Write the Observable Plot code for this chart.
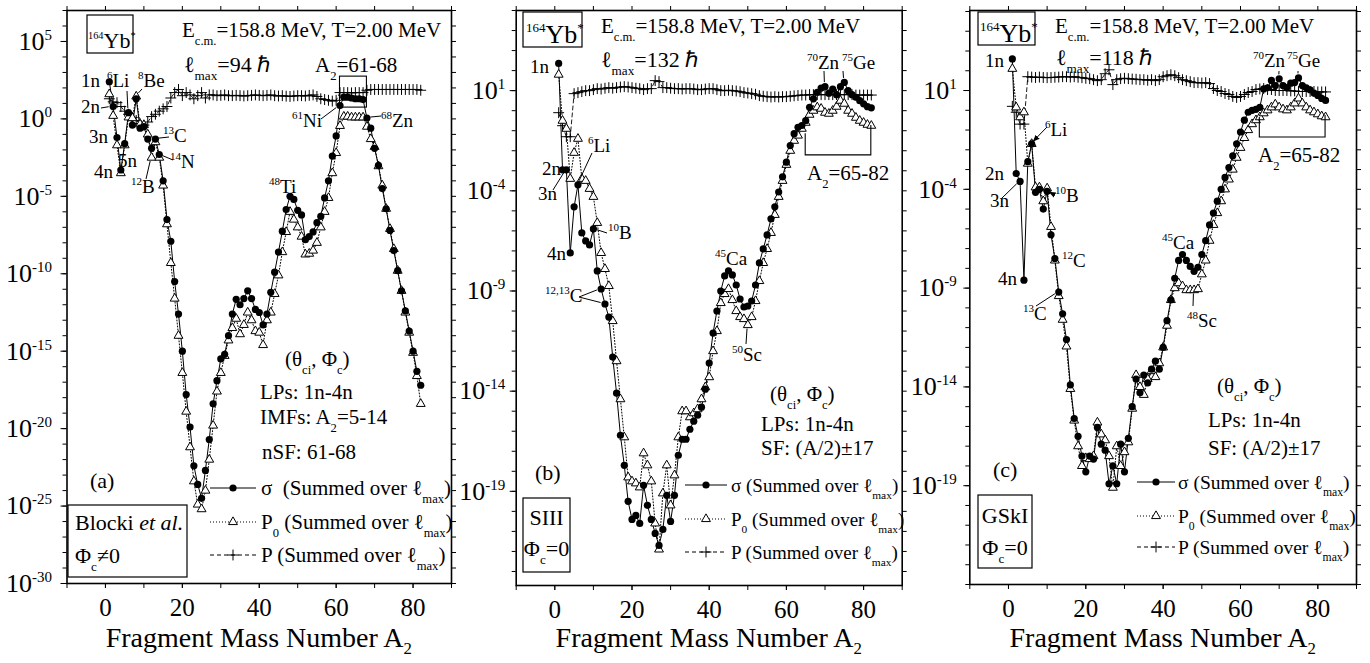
<!DOCTYPE html>
<html>
<head>
<meta charset="utf-8">
<script src="https://cdn.jsdelivr.net/npm/d3@7"></script>
<script src="https://cdn.jsdelivr.net/npm/@observablehq/plot@0.6"></script>
<style>
  html, body { margin: 0; padding: 0; background: #fff; }
  #wrap { position: relative; width: 1370px; height: 663px; overflow: hidden; background: #fff; }
  #wrap > svg { position: absolute; top: 0; }
  text { font-family: "Liberation Serif", "Times New Roman", serif; }
</style>
</head>
<body>
<div id="wrap"></div>
<script>
// ---------- data ----------
const massNumbers = [1,2,3,4,5,6,7,8,9,10,11,12,13,14,15,16,17,18,19,20,21,22,23,24,25,26,27,28,29,30,31,32,33,34,35,36,37,38,39,40,41,42,43,44,45,46,47,48,49,50,51,52,53,54,55,56,57,58,59,60,61,62,63,64,65,66,67,68,69,70,71,72,73,74,75,76,77,78,79,80,81,82];

// log10 of the plotted quantities, panel (a) Blocki et al.
const logSigmaA = [2.4,0.8,-1.2,-3.3,-1.6,0.4,-0.4,1.3,-0.6,-0.5,
 -1.3,-1.9,-1.3,-2.3,-4.0,-6.5,-7.9,-10.5,-12.6,-15.0,
 -17.8,-19.9,-22.4,-23.6,-24.5,-22.7,-20.7,-18.4,-16.9,-15.5,
 -15.2,-14.0,-12.6,-11.65,-12.0,-11.6,-11.1,-11.6,-12.3,-12.5,
 -13.3,-12.6,-11.2,-9.9,-8.6,-7.25,-5.85,-5.0,-5.2,-5.9,
 -6.2,-7.8,-7.6,-7.3,-6.7,-6.3,-5.1,-4.0,-2.4,-1.1,
 0.86,1.4,1.4,1.35,1.3,1.3,1.25,0.06,-0.6,-1.9,
 -3.0,-4.5,-5.8,-7.2,-8.5,-9.8,-11.1,-12.4,-13.7,-15.0,
 -16.3,-17.2];
const logP0A = [1.6,0.2,-1.7,-3.5,-1.7,0.1,0.05,1.45,-0.35,-0.4,
 -1.0,-2.5,-1.5,-2.5,-4.3,-6.8,-9.3,-11.6,-14.0,-16.4,
 -18.9,-21.2,-23.4,-24.9,-25.2,-24.0,-22.0,-19.8,-17.6,-16.4,
 -15.3,-14.3,-13.5,-12.9,-13.9,-13.3,-12.5,-13.0,-13.7,-13.8,
 -14.6,-13.0,-12.5,-11.3,-10.1,-8.6,-7.3,-6.0,-6.5,-7.0,
 -7.6,-8.75,-8.7,-8.5,-8.0,-7.0,-6.0,-5.1,-3.5,-2.2,
 -0.45,0.15,0.15,0.1,0.1,0.1,0.1,-0.5,-1.3,-1.8,
 -3.05,-4.3,-5.8,-7.1,-8.4,-9.8,-11.1,-12.5,-13.8,-15.1,
 -16.6,-18.4];
const logPA = [1.3,1.1,1.05,0.8,0.5,0.3,0.1,-0.1,-0.3,-0.4,
 -0.2,0.15,0.3,0.5,0.65,0.8,1.35,1.7,1.9,1.5,
 1.7,1.55,1.3,1.5,1.7,1.35,1.55,1.55,1.5,1.52,
 1.55,1.5,1.5,1.52,1.5,1.48,1.5,1.52,1.55,1.52,
 1.5,1.52,1.55,1.5,1.48,1.5,1.47,1.45,1.48,1.5,
 1.5,1.48,1.52,1.55,1.45,1.3,1.25,1.2,1.15,1.2,
 1.7,1.7,1.7,1.68,1.7,1.7,1.7,1.85,1.9,1.9,
 1.9,1.9,1.9,1.9,1.9,1.9,1.9,1.9,1.9,1.9,
 1.9,1.85];

// panel (b) SIII
const logSigmaB = [2.36,-2.95,-2.95,-7.1,-4.8,-3.7,-6.1,-6.5,-6.7,-5.9,
 -8.0,-8.9,-9.65,-10.3,-12.3,-14.1,-16.2,-17.7,-19.5,-20.4,
 -20.2,-20.6,-18.7,-19.7,-20.4,-21.1,-21.7,-20.9,-19.2,-20.5,
 -19.2,-17.2,-16.4,-16.4,-15.9,-15.5,-15.2,-14.8,-13.9,-12.6,
 -11.1,-10.0,-9.0,-8.25,-8.0,-8.2,-8.7,-9.4,-9.8,-9.75,
 -9.5,-8.7,-7.6,-6.9,-6.2,-5.4,-4.8,-4.06,-3.3,-2.57,
 -1.74,-1.15,-0.83,-0.74,-0.5,0.17,0.59,0.92,1.13,1.2,
 0.87,1.08,0.8,1.2,1.41,1.0,0.8,0.67,0.5,0.34,
 0.2,0.14];
const logP0B = [1.8,-0.5,-0.9,-3.4,-2.1,-1.4,-3.4,-3.5,-3.9,-4.3,
 -5.6,-7.1,-7.9,-8.75,-10.5,-12.5,-14.4,-16.3,-18.3,-18.5,
 -18.6,-18.8,-17.1,-17.7,-18.5,-20.6,-21.9,-19.1,-17.7,-19.7,
 -18.2,-16.3,-15.0,-15.0,-15.3,-15.1,-14.9,-14.4,-13.8,-13.3,
 -12.0,-11.0,-9.6,-9.15,-8.9,-9.45,-10.0,-10.3,-10.4,-10.7,
 -10.3,-9.5,-8.5,-7.6,-6.9,-6.1,-5.2,-4.3,-3.5,-2.7,
 -2.0,-1.5,-1.24,-0.9,-0.6,-0.2,0.0,0.17,0.1,-0.1,
 -0.15,0.0,0.2,0.5,0.35,0.0,-0.15,-0.35,-0.5,-0.6,
 -0.7,-0.75];
const logPB = [-0.1,-0.75,-1.3,-1.3,0.85,0.9,0.95,1.0,1.0,1.05,
 1.1,1.08,1.12,1.15,1.12,1.15,1.18,1.2,1.18,1.15,
 1.12,1.1,1.05,1.1,1.1,1.5,1.45,1.15,1.15,1.12,
 1.1,1.1,1.08,1.1,1.1,1.08,1.05,1.05,1.08,1.1,
 1.1,1.05,1.0,1.0,1.02,1.0,0.98,0.95,0.9,0.88,
 0.85,0.82,0.75,0.72,0.7,0.68,0.7,0.68,0.7,0.7,
 0.72,0.74,0.76,0.78,0.78,0.8,0.8,0.8,0.8,0.8,
 0.8,0.8,0.8,0.8,0.8,0.8,0.8,0.78,0.78,0.78,
 0.78,0.78];

// panel (c) GSkI
const logSigmaC = [2.6,-3.2,-3.6,-8.6,-2.6,-1.7,-4.15,-4.0,-5.0,-4.1,
 -6.3,-7.5,-9.2,-10.3,-11.6,-13.9,-15.6,-16.5,-17.5,-18.3,
 -17.5,-17.65,-16.05,-16.9,-17.2,-18.9,-18.0,-18.9,-16.9,-18.3,
 -16.6,-15.0,-13.6,-14.3,-13.4,-13.8,-13.1,-12.7,-13.1,-12.0,
 -10.65,-9.6,-8.5,-7.6,-7.3,-7.6,-7.9,-8.15,-7.95,-7.3,
 -6.6,-5.8,-5.2,-4.6,-4.0,-3.4,-2.9,-2.3,-1.7,-1.1,
 -0.5,-0.1,0.0,0.05,0.15,1.08,1.14,1.51,1.25,1.59,
 1.25,1.15,1.37,1.4,1.64,1.25,1.14,1.04,0.87,0.75,
 0.6,0.5];
const logP0C = [2.1,0.15,-0.35,-0.1,-2.7,-1.7,-3.9,-3.9,-4.6,-3.95,
 -5.9,-7.6,-9.4,-10.6,-11.95,-14.1,-15.7,-17.0,-18.0,-17.6,
 -17.65,-17.5,-15.8,-16.4,-16.7,-17.5,-19.1,-17.0,-18.0,-17.3,
 -16.8,-15.1,-13.4,-14.0,-14.4,-13.6,-13.2,-13.5,-12.8,-12.0,
 -10.9,-9.6,-9.0,-8.75,-8.9,-9.1,-9.1,-9.1,-9.05,-8.3,
 -7.6,-6.6,-5.8,-5.2,-4.6,-4.0,-3.5,-3.0,-2.4,-1.9,
 -1.4,-1.0,-0.7,-0.5,-0.35,-0.15,0.0,0.15,0.3,0.15,
 0.05,0.0,0.15,0.35,0.6,0.35,0.15,0.0,-0.1,-0.2,
 -0.3,-0.35];
const logPC = [0.2,-0.1,-0.7,-0.7,1.7,1.68,1.66,1.68,1.66,1.65,
 1.66,1.67,1.68,1.7,1.7,1.68,1.7,1.67,1.65,1.62,
 1.6,1.55,1.5,1.55,1.85,2.05,1.3,1.55,1.6,1.62,
 1.6,1.58,1.57,1.55,1.55,1.52,1.55,1.5,1.55,1.7,
 1.75,1.8,1.75,1.65,1.55,1.5,1.45,1.4,1.4,1.38,
 1.4,1.35,1.1,1.0,0.95,0.85,0.8,0.7,0.65,0.7,
 0.8,0.9,0.95,1.05,1.08,1.1,1.05,1.05,1.0,1.0,
 1.0,1.0,0.98,0.98,0.95,0.95,0.95,0.95,0.95,0.93,
 0.93,0.93];

// ticks
const xMinorTicks = [-10,0,10,20,30,40,50,60,70,80,90];
const xTickLabels = [0,20,40,60,80];
const yLabelExpA = [5,0,-5,-10,-15,-20,-25,-30];
const yLabelExpB = [1,-4,-9,-14,-19];
const yLabelExpC = [1,-4,-9,-14,-19];

const legendTextsA = ["σ\u00A0\u00A0(Summed over ℓ_{max})", "P_{0} (Summed over ℓ_{max})", "P (Summed over ℓ_{max})"];
const legendTextsBC = ["σ (Summed over ℓ_{max})", "P_{0} (Summed over ℓ_{max})", "P (Summed over ℓ_{max})"];
const xTitle = "Fragment Mass Number A_{2}";

// ---------- helpers ----------
function parse(str) {
  const parts = []; const re = /([_^~])\{([^}]*)\}/g; let last = 0, m;
  while ((m = re.exec(str))) {
    if (m.index > last) parts.push({t: str.slice(last, m.index)});
    parts.push({t: m[2], sup: m[1] === "^", sub: m[1] === "_", it: m[1] === "~"});
    last = re.lastIndex;
  }
  if (last < str.length) parts.push({t: str.slice(last)});
  return parts;
}
function rich(g, x, y, str, size = 21, anchor = "start", small = 0.6, subOff = 0.38) {
  const t = g.append("text").attr("x", x).attr("y", y).attr("font-size", size)
    .attr("text-anchor", anchor).attr("fill", "#000").style("white-space", "pre");
  let cur = 0;
  for (const seg of parse(str)) {
    const off = seg.sup ? -0.42 * size : seg.sub ? subOff * size : 0;
    const ts = t.append("tspan").attr("dy", off - cur).text(seg.t);
    if (seg.sup || seg.sub) ts.attr("font-size", size * small);
    if (seg.it) ts.attr("font-style", "italic");
    cur = off;
  }
  return t;
}

const wrap = d3.select("#wrap");
const panels = [
  {left: 0, width: 455, ml: 66.5, mr: 4, mb: 80, yExp: [-30, 7], yLabelExp: yLabelExpA, gap: 9,
   sigma: logSigmaA, p0: logP0A, p: logPA},
  {left: 455, width: 455, ml: 60.7, mr: 8.3, mb: 78, yExp: [-23.7, 5], yLabelExp: yLabelExpB, gap: 5,
   sigma: logSigmaB, p0: logP0B, p: logPB},
  {left: 910, width: 460, ml: 59.3, mr: 14, mb: 79, yExp: [-24, 5.05], yLabelExp: yLabelExpC, gap: 7,
   sigma: logSigmaC, p0: logP0C, p: logPC}
];

for (const cfg of panels) {
  const rows = massNumbers.map((A, i) => ({A, sigma: 10 ** cfg.sigma[i], p0: 10 ** cfg.p0[i], p: 10 ** cfg.p[i]}));
  const decades = d3.range(Math.ceil(cfg.yExp[0]), Math.floor(cfg.yExp[1]) + 1).map(e => 10 ** e);
  const labelled = cfg.yLabelExp.map(e => 10 ** e);
  const plot = Plot.plot({
    width: cfg.width, height: 663,
    marginLeft: cfg.ml, marginRight: cfg.mr, marginTop: 10, marginBottom: cfg.mb,
    style: {background: "transparent", fontFamily: "Liberation Serif", color: "#000", overflow: "visible"},
    x: {domain: [-10, 90]},
    y: {type: "log", domain: [10 ** cfg.yExp[0], 10 ** cfg.yExp[1]]},
    marks: [
      Plot.axisX({ticks: xMinorTicks, tickSize: 5, tickFormat: () => "", label: null}),
      Plot.axisX({ticks: xTickLabels, tickSize: 5, tickPadding: 10, fontSize: 25, label: null}),
      Plot.axisX({anchor: "top", ticks: xMinorTicks, tickSize: 5, tickFormat: () => "", label: null}),
      Plot.axisY({ticks: decades, tickSize: 4, tickFormat: () => "", label: null}),
      Plot.axisY({ticks: labelled, tickSize: 6, tickPadding: cfg.gap, fontSize: 26, label: null,
                  tickFormat: d => "10^" + Math.round(Math.log10(d))}),
      Plot.axisY({anchor: "right", ticks: decades, tickSize: 4, tickFormat: () => "", label: null}),
      Plot.line(rows, {x: "A", y: "p", stroke: "#000", strokeWidth: 0.9, strokeDasharray: "4,3"}),
      Plot.line(rows, {x: "A", y: "p0", stroke: "#000", strokeWidth: 1, strokeDasharray: "1,2"}),
      Plot.line(rows, {x: "A", y: "sigma", stroke: "#000", strokeWidth: 1}),
      Plot.dot(rows, {x: "A", y: "p", symbol: "plus", r: 3.6, stroke: "#000", strokeWidth: 1}),
      Plot.dot(rows, {x: "A", y: "p0", symbol: "triangle", r: 3.3, stroke: "#000", fill: "#fff", strokeWidth: 1}),
      Plot.dot(rows, {x: "A", y: "sigma", symbol: "circle", r: 3.6, fill: "#000"}),
      Plot.frame({stroke: "#000", strokeWidth: 1.6})
    ]
  });
  d3.select(plot).style("left", cfg.left + "px");
  d3.select(plot).selectAll('g[aria-label="y-axis tick label"] text').each(function () {
    const m = /^10\^(.+)$/.exec(this.textContent);
    if (!m) return;
    const t = d3.select(this); t.text(null);
    t.append("tspan").text("10");
    t.append("tspan").attr("dy", -10).attr("font-size", 15).text(m[1].replace("−", "-"));
  });
  wrap.node().appendChild(plot);
  cfg.plot = plot;
  cfg.sx = v => cfg.left + plot.scale("x").apply(v);
  cfg.sy = v => plot.scale("y").apply(v);
  cfg.rows = rows;
}

// ---------- overlay annotations ----------
const ov = wrap.append("svg").attr("width", 1370).attr("height", 663).style("left", "0px").style("pointer-events", "none");
ov.append("defs").append("marker").attr("id", "arr").attr("viewBox", "0 0 10 10").attr("refX", 9).attr("refY", 5)
  .attr("markerWidth", 7).attr("markerHeight", 7).attr("orient", "auto")
  .append("path").attr("d", "M0,1 L10,5 L0,9 z").attr("fill", "#000");
const g = ov.append("g");

function box(x, y, w, h) { g.append("rect").attr("x", x).attr("y", y).attr("width", w).attr("height", h).attr("fill", "none").attr("stroke", "#000").attr("stroke-width", 1.2); }
function ptr(cfg, x1, y1, A, key, arrow = false, shrink = 4) {
  const row = cfg.rows[A - 1];
  let x2 = cfg.sx(A), y2 = cfg.sy(row[key]);
  const dx = x2 - x1, dy = y2 - y1, L = Math.hypot(dx, dy);
  x2 -= dx / L * shrink; y2 -= dy / L * shrink;
  const l = g.append("line").attr("x1", x1).attr("y1", y1).attr("x2", x2).attr("y2", y2).attr("stroke", "#000").attr("stroke-width", 1);
  if (arrow) l.attr("marker-end", "url(#arr)");
}
function legend(x0, x1, ys, tx, texts, size) {
  const dashes = [null, "1,2", "4,3"];
  const syms = [d3.symbolCircle, d3.symbolTriangle, d3.symbolPlus];
  const rr = [3.6, 3.3, 3.6];
  ys.forEach((y, i) => {
    const ln = g.append("line").attr("x1", x0).attr("x2", x1).attr("y1", y).attr("y2", y).attr("stroke", "#000").attr("stroke-width", 1);
    if (dashes[i]) ln.attr("stroke-dasharray", dashes[i]);
    const p = g.append("path").attr("transform", `translate(${(x0 + x1) / 2},${y})`)
      .attr("d", d3.symbol(syms[i], Math.PI * rr[i] * rr[i])());
    if (i === 0) p.attr("fill", "#000");
    else p.attr("fill", i === 1 ? "#fff" : "none").attr("stroke", "#000").attr("stroke-width", 1);
    rich(g, tx, y + 7, texts[i], size);
  });
}
function bracket(cfg, a1, a2, eTopL, eBot, eTopR) {
  const x1 = cfg.sx(a1), x2 = cfg.sx(a2), yb = cfg.sy(10 ** eBot);
  g.append("path").attr("d", `M${x1},${cfg.sy(10 ** eTopL)}V${yb}H${x2}V${cfg.sy(10 ** eTopR)}`)
    .attr("fill", "none").attr("stroke", "#000").attr("stroke-width", 1.1);
}
const lab = (list) => list.forEach(([s, x, y]) => rich(g, x, y, s, 19, "start", 0.58));
const title = (x) => rich(g, x, 647, xTitle, 28, "middle", 0.6, 0.26);

const [pa, pb, pc] = panels;

// ---- panel (a)
box(87, 15, 46, 38);
rich(g, 88, 48, "^{164}Yb^{*}", 22, "start", 0.47);
rich(g, 182, 37, "E_{c.m.}=158.8 MeV, T=2.00 MeV", 21);
rich(g, 184, 72, "ℓ_{max}=94 ℏ", 22);
rich(g, 315, 72, "A_{2}=61-68", 21);
g.append("rect").attr("x", pa.sx(61)).attr("y", pa.sy(10 ** 2.73)).attr("width", pa.sx(68) - pa.sx(61))
  .attr("height", pa.sy(10 ** 0.73) - pa.sy(10 ** 2.73)).attr("fill", "none").attr("stroke", "#000").attr("stroke-width", 1.1);
lab([["1n", 81, 87], ["^{6}Li", 107, 87], ["^{8}Be", 138, 87], ["2n", 81, 113], ["3n", 89, 143], ["4n", 94, 178],
 ["5n", 118, 167], ["^{12}B", 131, 193], ["^{13}C", 163, 142], ["^{14}N", 170, 168], ["^{48}Ti", 269, 193],
 ["^{61}Ni", 292, 127], ["^{68}Zn", 381, 127]]);
ptr(pa, 101, 108, 2, "sigma");
ptr(pa, 127, 91, 6, "sigma");
ptr(pa, 142, 89, 8, "p0");
ptr(pa, 146, 179, 12, "p0");
ptr(pa, 169, 137, 13, "sigma");
ptr(pa, 173, 160, 14, "sigma");
ptr(pa, 321, 119, 61, "sigma");
ptr(pa, 381, 116, 68, "sigma");
rich(g, 285, 366, "(θ_{ci}, Φ_{c})", 21);
rich(g, 260, 399, "LPs: 1n-4n", 21);
rich(g, 260, 424, "IMFs: A_{2}=5-14", 21);
rich(g, 262, 459, "nSF: 61-68", 21);
rich(g, 90, 488, "(a)", 22);
legend(210, 256, [488, 522, 555], 261, legendTextsA, 21);
box(68, 505, 119, 72);
rich(g, 75, 530, "Blocki ~{et al.}", 22);
rich(g, 75, 563, "Φ_{c}≠0", 22);
title((66.5 + 451) / 2);

// ---- panel (b)
box(523, 12, 59, 35);
rich(g, 526, 43, "^{164}Yb^{*}", 26, "start", 0.5);
rich(g, 601, 33, "E_{c.m.}=158.8 MeV, T=2.00 MeV", 21);
rich(g, 601, 67, "ℓ_{max}=132 ℏ", 22);
lab([["1n", 530, 73], ["^{70}Zn", 807, 69], ["^{75}Ge", 842, 69], ["2n", 542, 175], ["3n", 538, 200],
 ["^{6}Li", 588, 152], ["4n", 547, 260], ["^{10}B", 608, 239], ["^{12,13}C", 545, 302],
 ["^{45}Ca", 715, 265], ["^{50}Sc", 732, 361]]);
rich(g, 807, 180, "A_{2}=65-82", 21);
ptr(pb, 553, 190, 3, "sigma");
ptr(pb, 592, 153, 6, "sigma");
ptr(pb, 607, 233, 10, "sigma");
ptr(pb, 579, 297, 12, "sigma");
ptr(pb, 579, 297, 13, "sigma");
ptr(pb, 746, 344, 50, "p0");
ptr(pb, 824, 71, 70, "sigma");
ptr(pb, 843, 71, 75, "sigma");
bracket(pb, 65, 82, -1.15, -2.23, -0.74);
rich(g, 770, 401, "(θ_{ci}, Φ_{c})", 21);
rich(g, 761, 431, "LPs: 1n-4n", 21);
rich(g, 761, 455, "SF: (A/2)±17", 21);
rich(g, 535, 480, "(b)", 22);
legend(685, 727, [485, 519, 552], 731, legendTextsBC, 19);
box(523, 498, 47, 74);
rich(g, 546.5, 525, "SIII", 22, "middle");
rich(g, 546.5, 556, "Φ_{c}=0", 22, "middle");
title((515.7 + 901.7) / 2);

// ---- panel (c)
box(978, 12, 57, 33);
rich(g, 980, 42, "^{164}Yb^{*}", 26, "start", 0.5);
rich(g, 1055, 33, "E_{c.m.}=158.8 MeV, T=2.00 MeV", 21);
rich(g, 1056, 65, "ℓ_{max}=118 ℏ", 22);
lab([["1n", 985, 67], ["^{70}Zn", 1253, 67], ["^{75}Ge", 1287, 67], ["^{6}Li", 1045, 136], ["2n", 985, 180],
 ["3n", 990, 207], ["^{10}B", 1055, 202], ["4n", 998, 285], ["^{12}C", 1062, 267], ["^{13}C", 1023, 320],
 ["^{45}Ca", 1162, 249], ["^{48}Sc", 1187, 327]]);
rich(g, 1258, 162, "A_{2}=65-82", 21);
ptr(pc, 1002, 198, 3, "sigma");
ptr(pc, 1047, 127, 6, "sigma", true, 3);
ptr(pc, 1055, 195, 10, "sigma", true, 3);
ptr(pc, 1036, 306, 13, "sigma");
ptr(pc, 1193, 306, 48, "p0");
ptr(pc, 1279, 71, 70, "sigma");
ptr(pc, 1298, 71, 75, "sigma");
bracket(pc, 65, 82, -0.37, -1.38, -0.27);
rich(g, 1217, 393, "(θ_{ci}, Φ_{c})", 21);
rich(g, 1208, 427, "LPs: 1n-4n", 21);
rich(g, 1208, 455, "SF: (A/2)±17", 21);
rich(g, 993, 477, "(c)", 22);
legend(1137, 1175, [482, 516, 547], 1178, legendTextsBC, 19.5);
box(978, 495, 54, 73);
rich(g, 1005, 523, "GSkI", 22, "middle");
rich(g, 1005, 555, "Φ_{c}=0", 22, "middle");
title((969.3 + 1356) / 2);
</script>
</body>
</html>
